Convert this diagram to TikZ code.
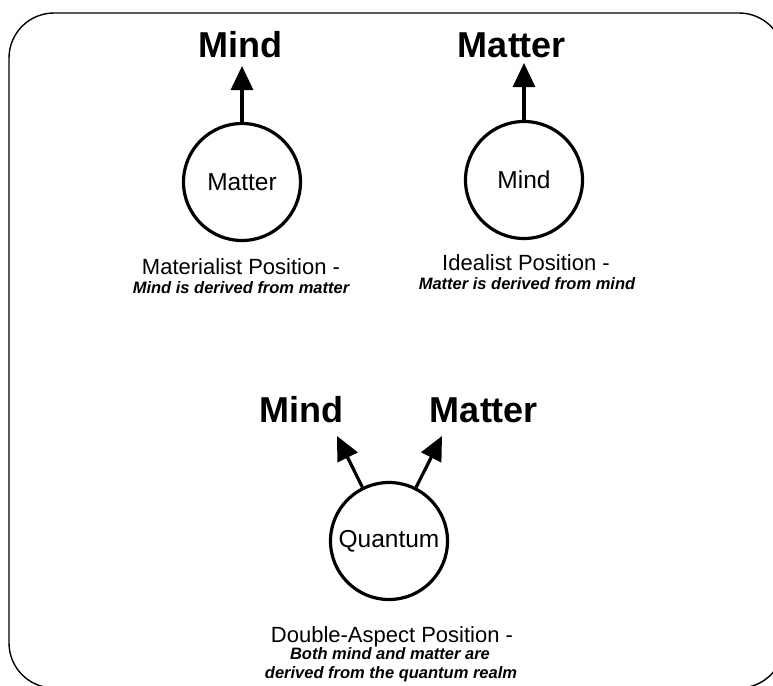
\documentclass[tikz,border=0pt]{standalone}
\usepackage{fontspec}
\setmainfont{Liberation Sans}
\usetikzlibrary{arrows.meta}
\tikzset{
  big/.style={font=\fontsize{36}{40}\selectfont\bfseries, inner sep=0pt},
  orb/.style={circle, draw, line width=3.2pt, minimum size=117pt, inner sep=0pt, font=\fontsize{24.5}{27}\selectfont},
  arr/.style={line width=3.2pt, -{Triangle[length=24pt,width=22pt]}},
  capmain/.style={font=\fontsize{22}{24}\selectfont, inner sep=0pt},
  capsub/.style={font=\fontsize{16.5}{19}\selectfont\bfseries\itshape, inner sep=0pt, align=center},
  frame/.style={line width=1.4pt, rounded corners=45pt}
}
\begin{document}
\begin{tikzpicture}[x=1pt,y=-1pt]
\useasboundingbox (0,0) rectangle (773,685);
\draw[frame] (9,13) rectangle (784,688);

% Materialist
\node[big, anchor=base] (mindA) at (240,57) {Mind};
\node[orb] (cA) at (242,182) {Matter};
\coordinate (tA) at (242,66);
\draw[arr] (cA) -- (tA);
\node[capmain, anchor=base] (capA) at (241,274) {Materialist Position -};
\node[capsub, anchor=base] (subA) at (241,293) {Mind is derived from matter};

% Idealist
\node[big, anchor=base] (matB) at (512,57) {Matter};
\node[orb] (cB) at (524,180) {Mind};
\coordinate (tB) at (524,63);
\draw[arr] (cB) -- (tB);
\node[capmain, anchor=base] (capB) at (526,270) {Idealist Position -};
\node[capsub, anchor=base] (subB) at (527,289) {Matter is derived from mind};

% Double-aspect
\node[big, anchor=base] (mindC) at (301,422) {Mind};
\node[big, anchor=base] (matC) at (484,422) {Matter};
\node[orb] (cC) at (389,541) {Quantum};
\coordinate (tC1) at (337,436);
\coordinate (tC2) at (442,436);
\draw[arr] (cC) -- (tC1);
\draw[arr] (cC) -- (tC2);
\node[capmain, anchor=base] (capC) at (392,642) {Double-Aspect Position -};
\node[capsub, anchor=base] (subC1) at (390,659) {Both mind and matter are};
\node[capsub, anchor=base] (subC2) at (391,678) {derived from the quantum realm};
\end{tikzpicture}
\end{document}
